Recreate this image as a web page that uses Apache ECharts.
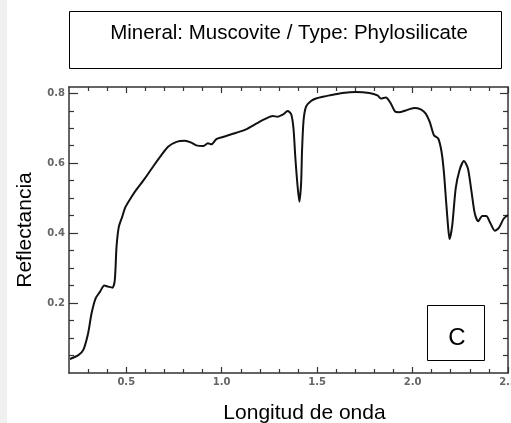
<!DOCTYPE html>
<html>
<head>
<meta charset="utf-8">
<script src="https://cdn.jsdelivr.net/npm/echarts@6/dist/echarts.min.js"></script>
<style>
html,body{margin:0;padding:0;background:#fff;}
#chart{width:511px;height:423px;}
</style>
</head>
<body>
<div id="chart"></div>
<script>
// Data
var wavelength = [0.205,0.249,0.275,0.300,0.318,0.339,0.362,0.385,0.405,0.428,0.440,0.449,0.461,0.479,0.496,0.528,0.554,0.597,0.640,0.684,0.719,0.763,0.806,0.841,0.867,0.902,0.928,0.946,0.972,1.006,1.076,1.128,1.181,1.233,1.267,1.294,1.320,1.346,1.364,1.376,1.386,1.398,1.407,1.416,1.421,1.429,1.442,1.468,1.494,1.530,1.564,1.633,1.703,1.773,1.816,1.834,1.860,1.886,1.908,1.929,1.964,2.008,2.043,2.069,2.090,2.112,2.135,2.152,2.164,2.176,2.187,2.194,2.208,2.226,2.246,2.269,2.290,2.309,2.326,2.344,2.365,2.386,2.408,2.431,2.452,2.478,2.500];
var reflectance = [0.040,0.051,0.066,0.113,0.170,0.213,0.232,0.250,0.247,0.244,0.266,0.361,0.418,0.447,0.475,0.504,0.525,0.556,0.590,0.623,0.647,0.661,0.664,0.659,0.651,0.649,0.657,0.654,0.669,0.675,0.687,0.697,0.713,0.728,0.735,0.733,0.739,0.749,0.740,0.700,0.615,0.532,0.490,0.542,0.637,0.723,0.762,0.778,0.785,0.790,0.794,0.801,0.804,0.801,0.794,0.785,0.788,0.771,0.748,0.746,0.751,0.758,0.754,0.742,0.718,0.680,0.670,0.632,0.575,0.489,0.413,0.383,0.423,0.528,0.580,0.606,0.585,0.518,0.456,0.434,0.449,0.449,0.428,0.407,0.415,0.442,0.452];
var xMajorTicks = [0.5,1.0,1.5,2.0,2.5];
var xMinorTicks = [0.3,0.4,0.6,0.7,0.8,0.9,1.1,1.2,1.3,1.4,1.6,1.7,1.8,1.9,2.1,2.2,2.3,2.4];
var yMajorTicks = [0.2,0.4,0.6,0.8];
var yMinorTicks = [0.05,0.1,0.15,0.25,0.3,0.35,0.45,0.5,0.55,0.65,0.7,0.75];
var titleText = 'Mineral: Muscovite / Type: Phylosilicate';
var xName = 'Longitud de onda';
var yName = 'Reflectancia';
var panelLabel = 'C';

var X_MIN = 0.2, X_MAX = 2.5, Y_MIN = 0, Y_MAX = 0.818;
var lineCol = '#333';
var labelStyle = {color:'#666', fontSize:10, fontWeight:'bold', fontFamily:'DejaVu Sans'};

function xAx(pos, ticks, len, showLine, showLabel, extra){
  var a = {
    type:'value', min:X_MIN, max:X_MAX, position:pos, gridIndex:0,
    splitLine:{show:false},
    axisLine:{show:showLine, onZero:false, lineStyle:{color:lineCol, width:1.5}},
    axisTick:{show:true, inside:true, length:len, customValues:ticks, lineStyle:{color:lineCol, width:1.2}},
    axisLabel:Object.assign({show:showLabel, customValues:ticks, margin:4, hideOverlap:false,
      formatter:function(v){return v.toFixed(1);}}, labelStyle)
  };
  return Object.assign(a, extra||{});
}
function yAx(pos, ticks, len, showLine, showLabel, extra){
  var a = {
    type:'value', min:Y_MIN, max:Y_MAX, position:pos, gridIndex:0,
    splitLine:{show:false},
    axisLine:{show:showLine, onZero:false, lineStyle:{color:lineCol, width:1.5}},
    axisTick:{show:true, inside:true, length:len, customValues:ticks, lineStyle:{color:lineCol, width:1.2}},
    axisLabel:Object.assign({show:showLabel, customValues:ticks, margin:4,
      formatter:function(v){return v.toFixed(1);}}, labelStyle)
  };
  return Object.assign(a, extra||{});
}

var chart = echarts.init(document.getElementById('chart'), null, {renderer:'canvas'});
var pts = wavelength.map(function(w,i){return [w, reflectance[i]];});

chart.setOption({
  animation:false,
  backgroundColor:'#fff',
  grid:{left:69, top:87, right:3, bottom:50, containLabel:false, outerBoundsMode:'none'},
  xAxis:[
    xAx('bottom', xMajorTicks, 6, true, true, {
      name:xName, nameLocation:'middle', nameGap:30,
      nameTextStyle:{color:'#000', fontSize:21, fontFamily:'Liberation Sans', padding:[0,0,0,32]}
    }),
    xAx('bottom', xMinorTicks, 4, false, false),
    xAx('top', xMajorTicks, 6, true, false),
    xAx('top', xMinorTicks, 4, false, false)
  ],
  yAxis:[
    yAx('left', yMajorTicks, 9, true, true, {
      name:yName, nameLocation:'middle', nameGap:33, nameRotate:90,
      nameTextStyle:{color:'#000', fontSize:21, fontFamily:'Liberation Sans'}
    }),
    yAx('left', yMinorTicks, 5, false, false),
    yAx('right', yMajorTicks, 8, true, false),
    yAx('right', yMinorTicks, 5, false, false)
  ],
  series:[{
    type:'line', xAxisIndex:0, yAxisIndex:0,
    data:pts, showSymbol:false, smooth:0.25,
    lineStyle:{color:'#111', width:2}
  }],
  graphic:[
    {type:'rect', shape:{x:0, y:0, width:7, height:423}, style:{fill:'#f0f0f0'}, silent:true},
    {type:'rect', shape:{x:69.5, y:11.5, width:432, height:57}, style:{fill:'#fff', stroke:'#000', lineWidth:1}, silent:true},
    {type:'text', style:{text:titleText, x:289, y:33, textAlign:'center', textVerticalAlign:'middle', verticalAlign:'middle',
      fontSize:20.5, fontFamily:'Liberation Sans', fill:'#000'}},
    {type:'rect', shape:{x:427.5, y:305.5, width:57, height:55}, style:{fill:'#fff', stroke:'#000', lineWidth:1}, z:100, silent:true},
    {type:'text', z:101, style:{text:panelLabel, x:457, y:338, textAlign:'center', textVerticalAlign:'middle', verticalAlign:'middle',
      fontSize:24, fontFamily:'Liberation Sans', fill:'#000'}}
  ]
});
</script>
</body>
</html>
